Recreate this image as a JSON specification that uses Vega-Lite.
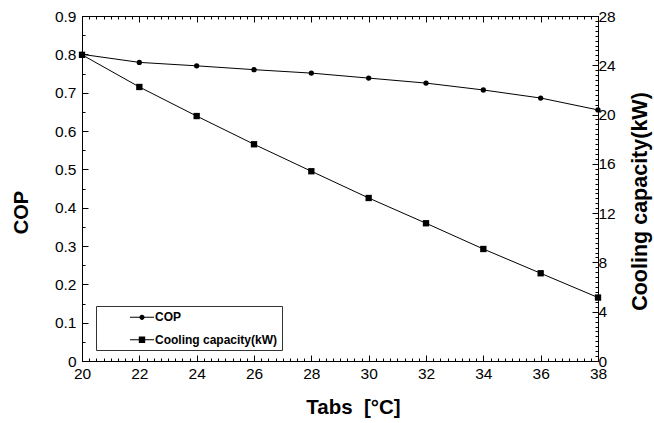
{
  "$schema": "https://vega.github.io/schema/vega-lite/v6.json",
  "autosize": {"type": "none"},
  "width": 516,
  "height": 345,
  "padding": {"left": 82, "top": 16, "right": 56, "bottom": 62},
  "background": "white",
  "view": {"stroke": null},
  "config": {
    "font": "Liberation Sans",
    "axis": {"grid": false, "labelFlush": false, "labelOverlap": false, "domainColor": "black", "tickColor": "black", "labelColor": "black", "titleColor": "black", "labelFont": "Liberation Sans", "titleFont": "Liberation Sans", "labelFontSize": 15.5, "titleFontWeight": "bold", "domainWidth": 1, "tickWidth": 1}
  },
  "datasets": {
    "main": [
      {"T": 20, "COP": 0.800, "Cap": 24.85},
      {"T": 22, "COP": 0.779, "Cap": 22.24},
      {"T": 24, "COP": 0.770, "Cap": 19.88},
      {"T": 26, "COP": 0.760, "Cap": 17.59},
      {"T": 28, "COP": 0.751, "Cap": 15.40},
      {"T": 30, "COP": 0.738, "Cap": 13.23},
      {"T": 32, "COP": 0.725, "Cap": 11.18},
      {"T": 34, "COP": 0.707, "Cap": 9.09},
      {"T": 36, "COP": 0.686, "Cap": 7.12},
      {"T": 38, "COP": 0.655, "Cap": 5.15}
    ],
    "legend": [{"series": "COP"}, {"series": "Cooling capacity(kW)"}]
  },
  "layer": [
    {
      "layer": [
        {
          "data": {"name": "main"},
          "mark": {"type": "line", "color": "black", "strokeWidth": 1},
          "encoding": {
            "x": {"field": "T", "type": "quantitative", "scale": {"domain": [20, 38], "nice": false, "zero": false},
              "axis": {"orient": "bottom", "title": "Tabs\u00a0\u00a0[°C]", "titleFontSize": 20.5, "titleX": 271, "titleY": 52, "titleAlign": "center", "titleBaseline": "alphabetic", "titleAnchor": null,
                "values": [20, 22, 24, 26, 28, 30, 32, 34, 36, 38], "format": "d", "labelOverlap": false,
                "tickSize": -6, "labelPadding": 11}},
            "y": {"field": "COP", "type": "quantitative", "scale": {"domain": [0, 0.9], "nice": false, "zero": false},
              "axis": {"orient": "left", "title": "COP", "titleFontSize": 20, "titleX": -61, "titleY": 196, "titleAngle": -90, "titleAlign": "center", "titleBaseline": "middle", "titleAnchor": null,
                "values": [0, 0.1, 0.2, 0.3, 0.4, 0.5, 0.6, 0.7, 0.8, 0.9], "labelOverlap": false,
                "labelExpr": "datum.value === 0 ? '0' : format(datum.value, '.1f')",
                "tickSize": -6, "labelPadding": 12}}
          }
        },
        {
          "data": {"name": "main"},
          "mark": {"type": "point", "shape": "circle", "filled": true, "color": "black", "opacity": 1, "size": 28},
          "encoding": {
            "x": {"field": "T", "type": "quantitative",
              "axis": {"orient": "bottom", "title": null, "labels": false, "domain": false, "tickSize": -3,
                "values": [20,20.25,20.5,20.75,21,21.25,21.5,21.75,22,22.25,22.5,22.75,23,23.25,23.5,23.75,24,24.25,24.5,24.75,25,25.25,25.5,25.75,26,26.25,26.5,26.75,27,27.25,27.5,27.75,28,28.25,28.5,28.75,29,29.25,29.5,29.75,30,30.25,30.5,30.75,31,31.25,31.5,31.75,32,32.25,32.5,32.75,33,33.25,33.5,33.75,34,34.25,34.5,34.75,35,35.25,35.5,35.75,36,36.25,36.5,36.75,37,37.25,37.5,37.75,38]}},
            "y": {"field": "COP", "type": "quantitative",
              "axis": {"orient": "left", "title": null, "labels": false, "domain": false, "tickSize": -3,
                "values": [0,0.05,0.1,0.15,0.2,0.25,0.3,0.35,0.4,0.45,0.5,0.55,0.6,0.65,0.7,0.75,0.8,0.85,0.9]}}
          }
        },
        {
          "data": {"name": "legend"},
          "mark": {"type": "point", "filled": true, "color": "black", "opacity": 0},
          "encoding": {
            "shape": {"field": "series", "type": "nominal",
              "scale": {"domain": ["COP", "Cooling capacity(kW)"], "range": ["M-1.714,-0.0714H1.714V0.0714H-1.714Z M-0.37,0A0.37,0.37 0 1,1 0.37,0A0.37,0.37 0 1,1 -0.37,0Z", "M-1.714,-0.0714H1.714V0.0714H-1.714Z M-0.457,-0.457H0.457V0.457H-0.457Z"]},
              "legend": {"title": null, "orient": "none", "legendX": 14, "legendY": 290, "padding": 4.3, "strokeColor": "#333333", "fillColor": "white",
                "labelFont": "Liberation Sans", "labelFontSize": 12, "labelFontWeight": "bold", "labelColor": "black",
                "symbolSize": 196, "symbolOffset": 34.7, "labelOffset": 6, "rowPadding": 9.4, "symbolStrokeWidth": 0, "symbolFillColor": "black", "symbolOpacity": 1,
                "labelExpr": "datum.label + '\u00a0\u00a0'",
                "encode": {"symbols": {"update": {"opacity": {"value": 1}, "fill": {"value": "black"}, "strokeWidth": {"value": 0}}}}}
            }
          }
        }
      ],
      "resolve": {"axis": {"x": "independent", "y": "independent"}}
    },
    {
      "layer": [
        {
          "data": {"name": "main"},
          "mark": {"type": "line", "color": "black", "strokeWidth": 1},
          "encoding": {
            "x": {"field": "T", "type": "quantitative", "scale": {"domain": [20, 38], "nice": false, "zero": false},
              "axis": {"orient": "top", "title": null, "labels": false, "tickSize": -6,
                "values": [20, 22, 24, 26, 28, 30, 32, 34, 36, 38]}},
            "y": {"field": "Cap", "type": "quantitative", "scale": {"domain": [0, 28], "nice": false, "zero": false},
              "axis": {"orient": "right", "title": "Cooling capacity(kW)", "titleFontSize": 21.5, "titleX": 42, "titleY": 185, "titleAngle": -90, "titleAlign": "center", "titleBaseline": "middle", "titleAnchor": null,
                "values": [0, 4, 8, 12, 16, 20, 24, 28], "format": "d", "labelOverlap": false,
                "tickSize": -6, "labelPadding": 6}}
          }
        },
        {
          "data": {"name": "main"},
          "mark": {"type": "point", "shape": "square", "filled": true, "color": "black", "opacity": 1, "size": 40},
          "encoding": {
            "x": {"field": "T", "type": "quantitative",
              "axis": {"orient": "top", "title": null, "labels": false, "domain": false, "tickSize": -3,
                "values": [20,20.25,20.5,20.75,21,21.25,21.5,21.75,22,22.25,22.5,22.75,23,23.25,23.5,23.75,24,24.25,24.5,24.75,25,25.25,25.5,25.75,26,26.25,26.5,26.75,27,27.25,27.5,27.75,28,28.25,28.5,28.75,29,29.25,29.5,29.75,30,30.25,30.5,30.75,31,31.25,31.5,31.75,32,32.25,32.5,32.75,33,33.25,33.5,33.75,34,34.25,34.5,34.75,35,35.25,35.5,35.75,36,36.25,36.5,36.75,37,37.25,37.5,37.75,38]}},
            "y": {"field": "Cap", "type": "quantitative",
              "axis": {"orient": "right", "title": null, "labels": false, "domain": false, "tickSize": -3,
                "values": [0,0.4,0.8,1.2,1.6,2,2.4,2.8,3.2,3.6,4,4.4,4.8,5.2,5.6,6,6.4,6.8,7.2,7.6,8,8.4,8.8,9.2,9.6,10,10.4,10.8,11.2,11.6,12,12.4,12.8,13.2,13.6,14,14.4,14.8,15.2,15.6,16,16.4,16.8,17.2,17.6,18,18.4,18.8,19.2,19.6,20,20.4,20.8,21.2,21.6,22,22.4,22.8,23.2,23.6,24,24.4,24.8,25.2,25.6,26,26.4,26.8,27.2,27.6,28]}}
          }
        }
      ],
      "resolve": {"axis": {"x": "independent", "y": "independent"}}
    }
  ],
  "resolve": {"scale": {"y": "independent"}, "axis": {"x": "independent", "y": "independent"}}
}
